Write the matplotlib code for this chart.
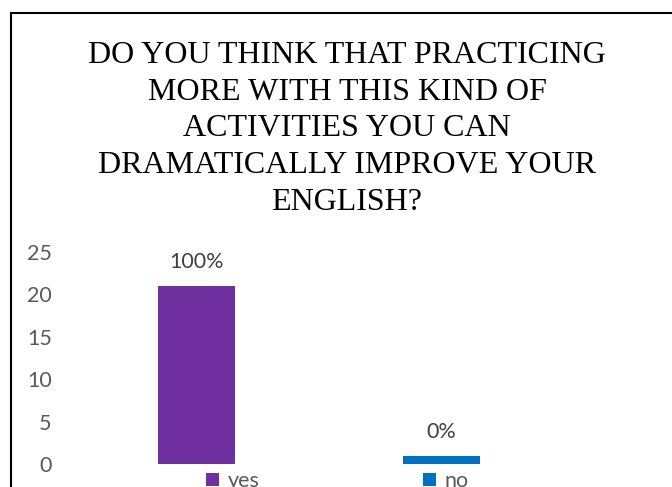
import matplotlib.pyplot as plt
from matplotlib.patches import Rectangle

# survey answers
answers = ['yes', 'no']
counts = [21, 1]
pct_labels = ['100%', '0%']
bar_colors = ['#7030A0', '#0070C0']
y_ticks = [0, 5, 10, 15, 20, 25]

title = ('DO YOU THINK THAT PRACTICING\nMORE WITH THIS KIND OF\n'
         'ACTIVITIES YOU CAN\nDRAMATICALLY IMPROVE YOUR\nENGLISH?')

plt.rcParams['font.family'] = ['Lato', 'DejaVu Sans']

fig = plt.figure(figsize=(6.72, 4.87), dpi=100)

# chart frame (runs off the right and bottom edges)
fig.patches.append(Rectangle((11 / 672, -0.1), 1.0, (487 - 13) / 487 + 0.1,
                             transform=fig.transFigure, fill=False,
                             edgecolor='black', linewidth=1.5))

fig.text(347 / 672, 1 - 129 / 487, title, ha='center', va='center',
         family='Liberation Serif', fontsize=23, linespacing=1.36,
         color='black')

ax = fig.add_axes([74 / 672, 23 / 487, 490 / 672, 212 / 487])
x = range(len(answers))
bars = ax.bar(x, counts, width=0.314, color=bar_colors, label=answers)
for b, lab in zip(bars, pct_labels):
    ax.annotate(lab, (b.get_x() + b.get_width() / 2, b.get_height()),
                xytext=(0, 17), textcoords='offset points',
                ha='center', va='center', fontsize=15.5, color='#404040')

ax.set_xlim(-0.5, 1.5)
ax.set_ylim(0, 25)
ax.set_yticks(y_ticks)
ax.set_xticks([])
ax.tick_params(axis='y', length=0, labelsize=15.5, labelcolor='#595959', pad=16)
for s in ax.spines.values():
    s.set_visible(False)

leg = ax.legend(bars, answers, ncol=2, loc='upper left',
                bbox_to_anchor=(206 / 672, 16 / 487), bbox_transform=fig.transFigure,
                frameon=False, fontsize=15.5, handlelength=0.6, handleheight=0.6,
                handletextpad=0.4, columnspacing=7.6, borderpad=0, borderaxespad=0)
for t in leg.get_texts():
    t.set_color('#595959')

fig.savefig('out.png', dpi=100)
